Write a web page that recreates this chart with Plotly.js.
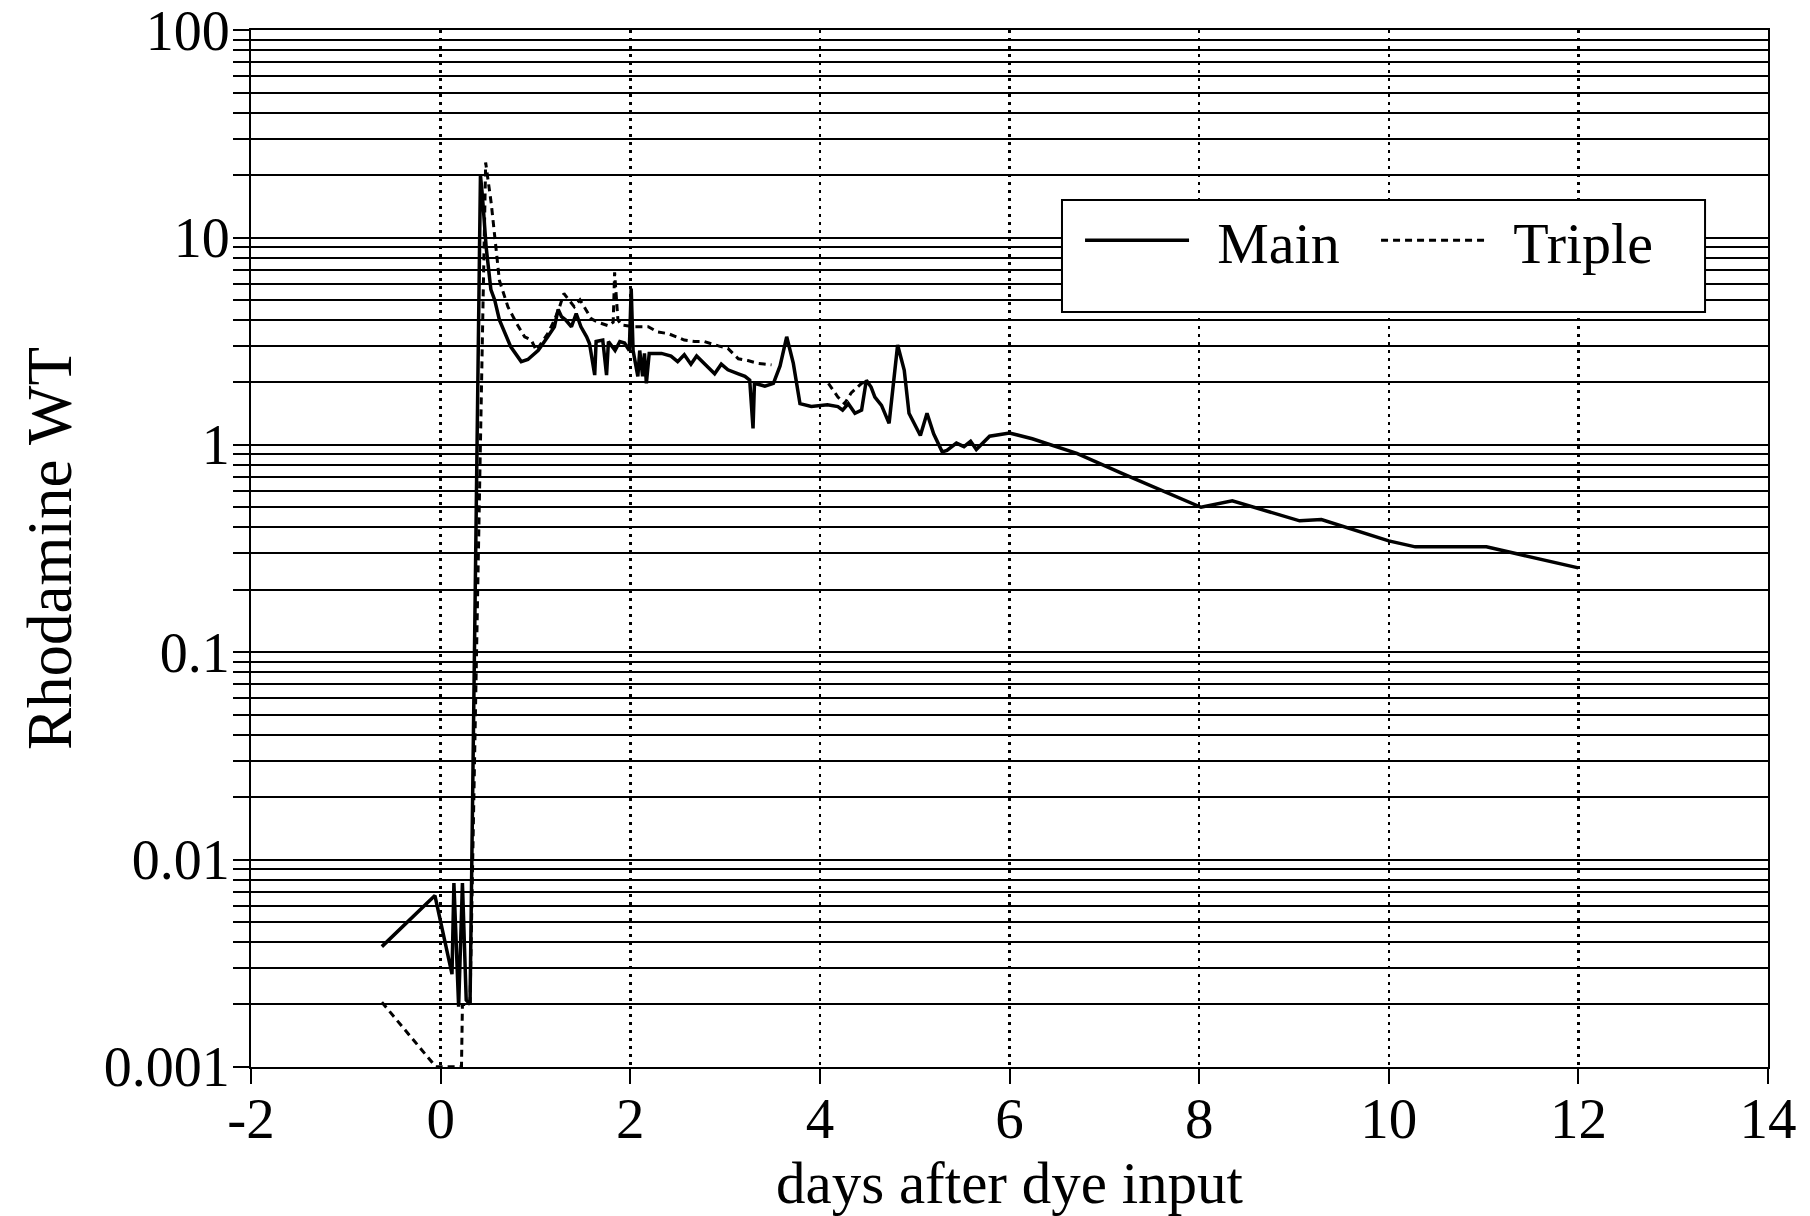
<!DOCTYPE html>
<html>
<head>
<meta charset="utf-8">
<script src="https://cdn.plot.ly/plotly-3.0.1.min.js"></script>
<style>html,body{margin:0;padding:0;background:#fff;}#chart{width:1810px;height:1216px;}</style>
</head>
<body>
<div id="chart"></div>
<script>
// ---- data ----
const mainDays = [-0.62, -0.06, 0.12, 0.14, 0.19, 0.23, 0.27, 0.31, 0.42, 0.44, 0.48, 0.53, 0.57, 0.62, 0.74, 0.85, 0.92, 1.03, 1.13, 1.20, 1.24, 1.275, 1.32, 1.38, 1.43, 1.48, 1.54, 1.57, 1.625, 1.64, 1.71, 1.75, 1.77, 1.84, 1.89, 1.94, 1.99, 2.01, 2.03, 2.08, 2.10, 2.13, 2.15, 2.17, 2.20, 2.33, 2.43, 2.50, 2.57, 2.64, 2.70, 2.78, 2.89, 2.96, 3.03, 3.14, 3.21, 3.26, 3.295, 3.31, 3.42, 3.51, 3.58, 3.65, 3.72, 3.79, 3.91, 4.08, 4.19, 4.24, 4.30, 4.37, 4.44, 4.49, 4.54, 4.58, 4.65, 4.73, 4.82, 4.89, 4.94, 5.06, 5.13, 5.20, 5.29, 5.34, 5.44, 5.52, 5.59, 5.65, 5.79, 6.00, 6.24, 6.71, 7.18, 8.02, 8.35, 9.06, 9.29, 10.00, 10.28, 11.03, 12.00];
const mainConc = [0.0038, 0.0067, 0.0028, 0.0077, 0.00195, 0.0077, 0.0021, 0.002, 20, 16, 9, 5.6, 5.0, 4.0, 2.97, 2.52, 2.58, 2.86, 3.32, 3.71, 4.5, 4.15, 4.0, 3.71, 4.3, 3.71, 3.32, 3.08, 2.17, 3.15, 3.2, 2.17, 3.15, 2.85, 3.15, 3.1, 2.85, 5.68, 2.85, 2.14, 2.85, 2.14, 2.76, 1.98, 2.76, 2.76, 2.68, 2.52, 2.72, 2.45, 2.68, 2.47, 2.2, 2.45, 2.3, 2.2, 2.14, 2.05, 1.2, 1.98, 1.92, 1.98, 2.4, 3.32, 2.47, 1.58, 1.53, 1.56, 1.53, 1.47, 1.58, 1.42, 1.47, 2.05, 1.9, 1.7, 1.55, 1.27, 3.03, 2.29, 1.42, 1.11, 1.42, 1.13, 0.925, 0.94, 1.02, 0.98, 1.04, 0.95, 1.10, 1.14, 1.07, 0.91, 0.73, 0.50, 0.537, 0.43, 0.436, 0.344, 0.322, 0.322, 0.255];

const tripleDays = [-0.62, -0.05, 0.22, 0.23, 0.31, 0.475, 0.534, 0.57, 0.62, 0.71, 0.80, 0.886, 0.956, 1.01, 1.06, 1.13, 1.20, 1.255, 1.30, 1.38, 1.41, 1.47, 1.52, 1.59, 1.66, 1.77, 1.82, 1.835, 1.87, 1.91, 2.05, 2.19, 2.29, 2.40, 2.50, 2.57, 2.68, 2.78, 2.93, 3.03, 3.14, 3.24, 3.35, 3.49, 3.75, 4.09, 4.19, 4.26, 4.33, 4.44, 4.49];
const tripleConc = [0.00205, 0.001, 0.001, 0.002, 0.002, 23, 14.6, 10, 6.2, 4.63, 3.86, 3.32, 3.2, 2.85, 3.08, 3.44, 4.0, 4.63, 5.37, 4.8, 4.63, 5.0, 4.55, 4.05, 3.9, 3.75, 3.9, 6.8, 4.0, 3.78, 3.71, 3.71, 3.5, 3.44, 3.3, 3.2, 3.15, 3.15, 3.0, 2.92, 2.6, 2.55, 2.47, 2.43, null, 1.98, 1.7, 1.58, 1.78, 1.98, 2.02];

const yTickVals = [0.001, 0.01, 0.1, 1, 10, 100];
const yTickText = ['0.001', '0.01', '0.1', '1', '10', '100'];
const xTickVals = [-2, 0, 2, 4, 6, 8, 10, 12, 14];
const xTickText = ['-2', '0', '2', '4', '6', '8', '10', '12', '14'];
const seriesNames = ['Main', 'Triple'];

// minor log grid positions (2..9 within each decade)
const yMinorVals = [];
for (let d = -3; d < 2; d++) {
  for (let m = 2; m <= 9; m++) yMinorVals.push(m * Math.pow(10, d));
}

const FONT = 'Liberation Serif, Times New Roman, serif';
const PAD = '\u2009\u2009';

const traces = [
  {x: mainDays, y: mainConc, name: PAD + seriesNames[0], type: 'scatter', mode: 'lines',
   line: {color: '#000', width: 3.5}, connectgaps: false},
  {x: tripleDays, y: tripleConc, name: PAD + seriesNames[1], type: 'scatter', mode: 'lines',
   line: {color: '#000', width: 3, dash: '7px,5px'}, connectgaps: false}
];

const layout = {
  width: 1810, height: 1216,
  margin: {l: 251, r: 42, t: 30, b: 149},
  paper_bgcolor: '#fff', plot_bgcolor: '#fff',
  font: {family: FONT, color: '#000', size: 56},
  showlegend: true,
  legend: {
    orientation: 'h', x: 0.5465, xanchor: 'left', y: 0.797, yanchor: 'middle',
    bgcolor: 'rgba(0,0,0,0)', borderwidth: 0, itemwidth: 104,
    entrywidth: 177, entrywidthmode: 'pixels',
    font: {family: FONT, size: 58, color: '#000'}, itemclick: false
  },
  xaxis: {
    type: 'linear', range: [-2, 14], tickmode: 'array', tickvals: xTickVals, ticktext: xTickText,
    ticks: 'outside', ticklen: 15, tickwidth: 2, tickcolor: '#000', ticklabelstandoff: -14,
    ticklabeloverflow: 'allow',
    showgrid: true, gridcolor: '#000', gridwidth: 2.5, griddash: '3px,5px',
    showline: true, linecolor: '#000', linewidth: 2, mirror: true,
    zeroline: false, tickfont: {family: FONT, size: 57},
    title: {text: 'days after dye input', font: {family: FONT, size: 59}, standoff: 38}
  },
  yaxis: {
    type: 'log', range: [-3.0008, 2.0008], tickmode: 'array', tickvals: yTickVals, ticktext: yTickText,
    ticks: 'outside', ticklen: 16, tickwidth: 2, tickcolor: '#000', ticklabelstandoff: -8,
    ticklabeloverflow: 'allow',
    showgrid: true, gridcolor: '#000', gridwidth: 2,
    minor: {tickmode: 'array', tickvals: yMinorVals, ticks: 'outside', ticklen: 16, tickwidth: 2,
            tickcolor: '#000', showgrid: true, gridcolor: '#000', gridwidth: 2},
    showline: true, linecolor: '#000', linewidth: 2, mirror: true,
    zeroline: false, tickfont: {family: FONT, size: 56},
    title: {text: 'Rhodamine WT', font: {family: FONT, size: 63}, standoff: 12}
  },
  shapes: [
    {type: 'rect', xref: 'paper', yref: 'paper', x0: 0.5346, x1: 0.9585, y0: 0.728, y1: 0.836,
     line: {color: '#000', width: 2}, fillcolor: '#fff', layer: 'above'}
  ]
};

Plotly.newPlot('chart', traces, layout, {staticPlot: true, displayModeBar: false});
</script>
</body>
</html>
